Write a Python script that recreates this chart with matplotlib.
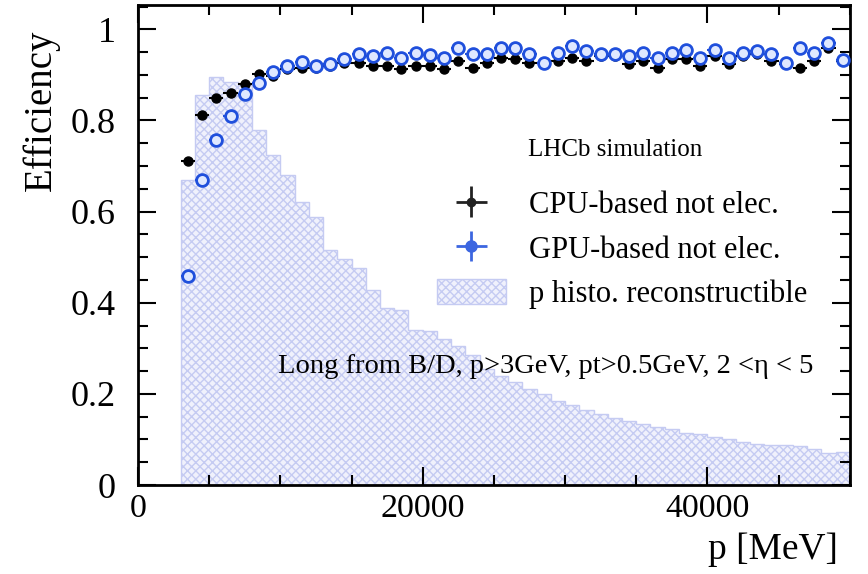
import matplotlib
matplotlib.use("Agg")
import matplotlib.pyplot as plt
import numpy as np
from matplotlib.ticker import MultipleLocator

plt.rcParams["font.family"] = ["Liberation Serif", "DejaVu Serif"]

# histogram bin edges [MeV] and normalised content
bin_edges = np.arange(0, 51000, 1000)
p_histo = [
    0.0, 0.0, 0.0, 0.669, 0.856, 0.896, 0.885, 0.878, 0.780, 0.725,
    0.680, 0.620, 0.588, 0.516, 0.495, 0.477, 0.429, 0.388, 0.384, 0.341,
    0.339, 0.320, 0.305, 0.285, 0.255, 0.240, 0.225, 0.210, 0.200, 0.185,
    0.175, 0.165, 0.155, 0.148, 0.140, 0.135, 0.128, 0.122, 0.115, 0.113,
    0.105, 0.100, 0.095, 0.090, 0.088, 0.087, 0.085, 0.080, 0.070, 0.072,
]

# efficiency points, bin centres 3500 ... 49500 MeV
p_centres = np.arange(3500, 50000, 1000)
eff_cpu = [
    0.712, 0.813, 0.850, 0.861, 0.879, 0.901, 0.897, 0.914, 0.915, 0.915,
    0.919, 0.927, 0.927, 0.919, 0.919, 0.912, 0.919, 0.919, 0.912, 0.930,
    0.915, 0.927, 0.938, 0.934, 0.927, 0.927, 0.930, 0.938, 0.930, 0.941,
    0.941, 0.923, 0.930, 0.916, 0.934, 0.934, 0.919, 0.941, 0.923, 0.941,
    0.945, 0.930, 0.923, 0.916, 0.930, 0.960, 0.930,
]
eff_gpu = [
    0.458, 0.669, 0.758, 0.809, 0.857, 0.883, 0.906, 0.919, 0.929, 0.919,
    0.923, 0.935, 0.945, 0.941, 0.949, 0.938, 0.949, 0.943, 0.938, 0.960,
    0.945, 0.945, 0.958, 0.958, 0.945, 0.927, 0.949, 0.963, 0.952, 0.945,
    0.945, 0.941, 0.949, 0.938, 0.949, 0.955, 0.938, 0.955, 0.938, 0.949,
    0.952, 0.945, 0.927, 0.958, 0.949, 0.969, 0.933,
]
eff_err = 0.006
p_halfwidth = 500

blue = "#1f4fdc"

fig = plt.figure(figsize=(8.68, 5.74), dpi=100)
ax = fig.add_axes([0.159, 0.155, 0.820, 0.836])

hist = ax.stairs(p_histo, bin_edges, fill=True, facecolor="#f0f1fc",
                 edgecolor="#c5cbf2", hatch="xxxx", linewidth=1.0,
                 label="p histo. reconstructible")

ax.errorbar(p_centres, eff_cpu, xerr=p_halfwidth, yerr=eff_err, fmt="o",
            color="black", ms=6.5, elinewidth=1.5, capsize=0, zorder=3)
ax.errorbar(p_centres, eff_gpu, xerr=p_halfwidth, yerr=eff_err, fmt="o",
            color=blue, mfc="#dfe8ff", mec=blue, mew=2.0, ms=8.5,
            elinewidth=1.5, capsize=0, zorder=4)

# legend proxies
cpu_proxy = ax.errorbar([np.nan], [np.nan], xerr=[1], yerr=[1], fmt="o",
                        color="#222222", ms=6, elinewidth=2, capsize=0,
                        label="CPU-based not elec.")
gpu_proxy = ax.errorbar([np.nan], [np.nan], xerr=[1], yerr=[1], fmt="o",
                        color="#3c66e0", ms=8, elinewidth=2, capsize=0,
                        label="GPU-based not elec.")

ax.legend(handles=[cpu_proxy, gpu_proxy, hist], loc="upper left",
          bbox_to_anchor=(0.42, 0.615), frameon=False, fontsize=22,
          handlelength=2.25, handletextpad=0.75, labelspacing=0.47,
          handleheight=0.9, borderpad=0, borderaxespad=0)

ax.text(0.548, 0.698, "LHCb simulation", transform=ax.transAxes,
        fontsize=18, va="center", ha="left")
ax.text(0.197, 0.248, "Long from B/D, p>3GeV, pt>0.5GeV, 2 <η < 5",
        transform=ax.transAxes, fontsize=20.5, va="center", ha="left")

ax.set_xlim(0, 50000)
ax.set_ylim(0, 1.053)
ax.xaxis.set_major_locator(MultipleLocator(20000))
ax.xaxis.set_minor_locator(MultipleLocator(5000))
ax.yaxis.set_major_locator(MultipleLocator(0.2))
ax.yaxis.set_minor_locator(MultipleLocator(0.05))
ax.set_yticks([0, 0.2, 0.4, 0.6, 0.8, 1.0], ["0", "0.2", "0.4", "0.6", "0.8", "1"])
ax.tick_params(which="both", direction="in", top=True, right=True, width=1.5)
ax.tick_params(axis="x", labelsize=24.5, pad=6)
ax.tick_params(axis="y", labelsize=26, pad=16)
ax.tick_params(which="major", length=13)
ax.tick_params(which="minor", length=7)
for s in ax.spines.values():
    s.set_linewidth(2)

ax.set_ylabel("Efficiency", fontsize=28, loc="top")
ax.yaxis.set_label_coords(-0.11, 0.948)
ax.set_xlabel("p [MeV]", fontsize=27, loc="right")
ax.xaxis.set_label_coords(0.983, -0.098)

fig.savefig("out.png", dpi=100)
